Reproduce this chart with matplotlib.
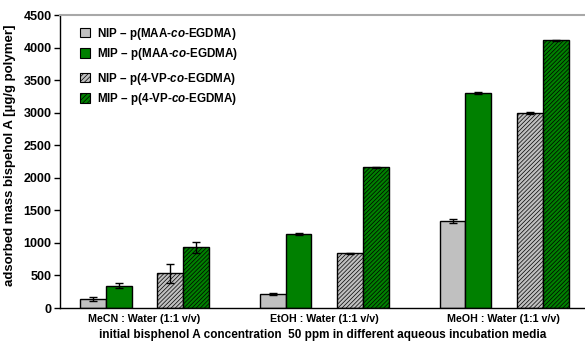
import matplotlib
matplotlib.use("Agg")
import matplotlib.pyplot as plt
import numpy as np
from matplotlib.patches import Patch

plt.rcParams['font.family'] = ['Liberation Sans', 'DejaVu Sans']
plt.rcParams['mathtext.fontset'] = 'custom'
plt.rcParams['mathtext.rm'] = 'Liberation Sans:bold'
plt.rcParams['mathtext.it'] = 'Liberation Sans:italic:bold'
plt.rcParams['hatch.linewidth'] = 0.5

categories = ["MeCN : Water (1:1 v/v)", "EtOH : Water (1:1 v/v)", "MeOH : Water (1:1 v/v)"]
series_names = [r"NIP – p(MAA-$\mathit{co}$-EGDMA)", r"MIP – p(MAA-$\mathit{co}$-EGDMA)",
                r"NIP – p(4-VP-$\mathit{co}$-EGDMA)", r"MIP – p(4-VP-$\mathit{co}$-EGDMA)"]
nip_maa = [140, 215, 1332]
mip_maa = [343, 1137, 3298]
nip_4vp = [533, 840, 2990]
mip_4vp = [932, 2160, 4112]
nip_maa_err = [25, 15, 30]
mip_maa_err = [35, 10, 15]
nip_4vp_err = [145, 10, 15]
mip_4vp_err = [80, 10, 10]
yticks = [0, 500, 1000, 1500, 2000, 2500, 3000, 3500, 4000, 4500]

fig = plt.figure(figsize=(5.85, 3.46), dpi=100)
ax = fig.add_axes([0.1026, 0.1098, 0.897, 0.8468])

x = np.arange(len(categories))
w = 0.144
offsets = [-1.98, -0.98, 1.0, 2.0]
colors = ['#c0c0c0', '#008000', '#c0c0c0', '#008000']
hatches = [None, None, '////////', '////////']
vals = [nip_maa, mip_maa, nip_4vp, mip_4vp]
errs = [nip_maa_err, mip_maa_err, nip_4vp_err, mip_4vp_err]

handles = []
for v, e, off, c, h, name in zip(vals, errs, offsets, colors, hatches, series_names):
    ax.bar(x + off * w, v, width=w, color=c, edgecolor='black', linewidth=1.0,
           hatch=h, zorder=2)
    ax.errorbar(x + off * w, v, yerr=e, fmt='none', ecolor='black', elinewidth=1.0,
                capsize=3, capthick=1.0, zorder=3)
    handles.append(Patch(facecolor=c, edgecolor='black', hatch=('///////' if h else None),
                         linewidth=0.8, label=name))

ax.set_xlim(-0.467, 2.45)
ax.set_ylim(0, 4500)
ax.set_yticks(yticks)
ax.set_yticklabels([str(t) for t in yticks], fontweight='bold', fontsize=9)
ax.set_xticks(x)
ax.set_xticklabels(categories, fontweight='bold', fontsize=7.7)
ax.tick_params(axis='x', length=0, pad=4)
ax.tick_params(axis='y', length=4, width=1, direction='out', pad=2)

ax.spines['right'].set_visible(False)
ax.spines['top'].set_color('#a8a8a8')
ax.spines['top'].set_linewidth(1.5)
ax.spines['left'].set_linewidth(1.0)
ax.spines['bottom'].set_linewidth(1.0)

ax.set_ylabel("adsorbed mass bispehol A [µg/g polymer]", fontsize=9.5, fontweight='bold', labelpad=3)
ax.yaxis.set_label_coords(-0.083, 0.522)
ax.set_xlabel("initial bisphenol A concentration  50 ppm in different aqueous incubation media",
              fontweight='bold', fontsize=8.5, labelpad=4)

leg_kw = dict(frameon=False, prop={'weight': 'bold', 'size': 8.4}, handlelength=0.9,
              handleheight=0.9, handletextpad=0.6, labelspacing=0.4, borderaxespad=0)
leg1 = fig.legend(handles=handles[:2], loc='upper left', bbox_to_anchor=(75/585, 1 - 21/346), **leg_kw)
leg2 = fig.legend(handles=handles[2:], loc='upper left', bbox_to_anchor=(75/585, 1 - 66/346), **leg_kw)

fig.savefig("out.png", dpi=100)
